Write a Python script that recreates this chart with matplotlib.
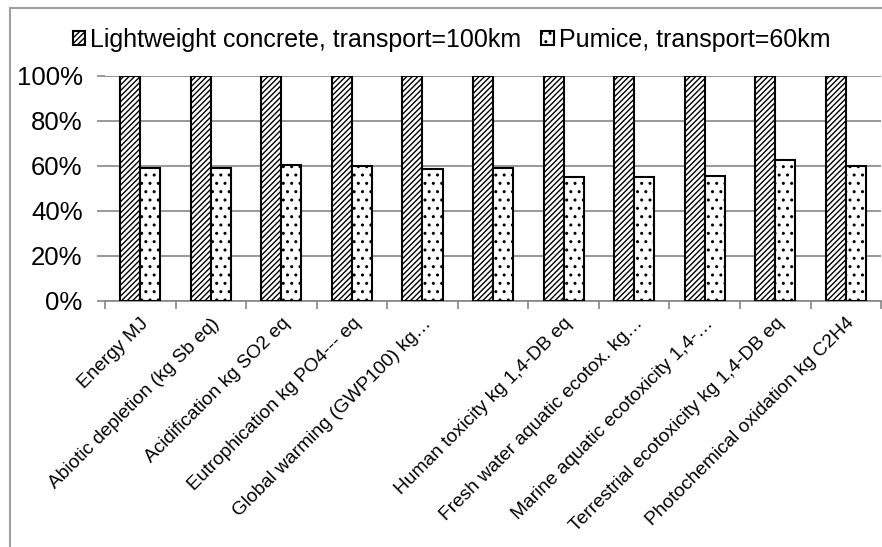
import matplotlib.pyplot as plt
import matplotlib.lines as mlines
import numpy as np

plt.rcParams['font.family'] = ['Liberation Sans', 'DejaVu Sans']
plt.rcParams['hatch.linewidth'] = 1.0

# Impact categories (one of them has no label on the axis)
categories = ['Energy MJ',
              'Abiotic depletion (kg Sb eq)',
              'Acidification kg SO2 eq',
              'Eutrophication kg PO4--- eq',
              'Global warming (GWP100) kg\u2026',
              '',
              'Human toxicity kg 1,4-DB eq',
              'Fresh water aquatic ecotox. kg\u2026',
              'Marine aquatic ecotoxicity 1,4-\u2026',
              'Terrestrial ecotoxicity kg 1,4-DB eq',
              'Photochemical oxidation kg C2H4']

# relative impact, %
lightweight = [100, 100, 100, 100, 100, 100, 100, 100, 100, 100, 100]
pumice = [58.8, 59.0, 60.4, 60.0, 58.7, 59.2, 55.0, 55.0, 55.5, 62.4, 60.0]

fig = plt.figure(figsize=(8.82, 5.47), dpi=100)
ax = fig.add_axes([0.119, 0.450, 0.880, 0.4115])

x = np.arange(len(categories))
w = 0.284

ax.bar(x + 0.5, lightweight, width=-w, align='edge', color='white',
       edgecolor='black', linewidth=1.5, hatch='//////',
       label='Lightweight concrete, transport=100km', zorder=3)
ax.bar(x + 0.5, pumice, width=w, align='edge', color='white',
       edgecolor='black', linewidth=1.5, hatch='..',
       label='Pumice, transport=60km', zorder=3)

ax.set_xlim(0, len(categories))
ax.set_ylim(0, 100)
ax.set_yticks(np.arange(0, 101, 20))
ax.set_yticklabels([f'{v}%' for v in range(0, 101, 20)], fontsize=18.5)
ax.yaxis.grid(True, color='#868686', linewidth=1.2, zorder=0)
ax.tick_params(axis='y', length=6, color='#868686', width=1.2, pad=10)

# category boundaries get the tick marks, labels sit at the centres
ax.set_xticks(np.arange(len(categories) + 1), minor=True)
ax.set_xticks(x + 0.5)
ax.set_xticklabels(categories, rotation=45, ha='right',
                   rotation_mode='anchor', fontsize=13.8)
ax.tick_params(axis='x', which='major', length=0, pad=10)
ax.tick_params(axis='x', which='minor', length=6, color='#868686', width=1.2)

for s in ['top', 'right', 'left']:
    ax.spines[s].set_visible(False)
ax.spines['bottom'].set_color('#868686')
ax.spines['bottom'].set_linewidth(1.2)

fig.legend(loc='center', bbox_to_anchor=(0.512, 1 - 40 / 547), ncol=2,
           frameon=False, fontsize=18, handlelength=0.5, handleheight=0.5,
           handletextpad=0.2, columnspacing=0.8)

# chart border
fig.add_artist(mlines.Line2D([10 / 882, 10 / 882], [0, 1 - 8 / 547],
                             color='#a0a0a0', linewidth=1.5))
fig.add_artist(mlines.Line2D([10 / 882, 1], [1 - 8 / 547, 1 - 8 / 547],
                             color='#a0a0a0', linewidth=1.5))

plt.savefig('out.png', dpi=100)
